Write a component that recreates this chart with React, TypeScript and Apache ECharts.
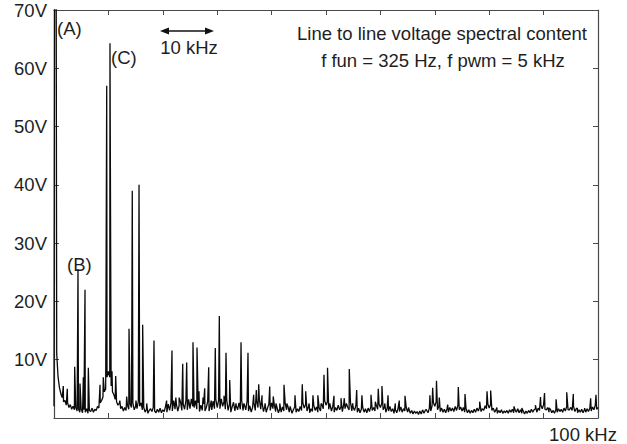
import React, { useEffect, useRef } from "react";
import * as echarts from "echarts";

// Frequency axis (kHz) and voltage axis (V)
const xMin = 0;
const xMax = 100;
const xInterval = 10;
const yMin = 0;
const yMax = 70;
const yInterval = 10;
const xEndLabel = "100 kHz";

// Noise floor sampled every 0.25 kHz, 0 .. 100 kHz (V)
const floorStep = 0.25;
const floorLevels = [
  // 0 - 4.75
  2, 75, 11, 7, 5.2, 4.2, 3.5, 2.8, 3.0, 2.2, 2.6, 1.8, 2.3, 1.5, 2.0, 1.4, 1.8, 1.2, 1.6, 1.0,
  // 5 - 9.75
  1.5, 0.9, 1.4, 1.0, 1.6, 0.8, 1.3, 1.1, 1.7, 1.0, 1.5, 1.3, 2.0, 1.7, 2.6, 3.0, 3.6, 4.5, 5.0, 7.0,
  // 10 - 14.75
  8.0, 7.0, 5.5, 4.5, 4.0, 3.2, 2.8, 2.2, 2.5, 1.6, 2.0, 1.2, 1.8, 1.3, 2.2, 1.5, 2.4, 1.8, 2.6, 1.4,
  // 15 - 19.75
  2.0, 1.6, 2.8, 2.0, 2.6, 1.4, 1.8, 1.0, 1.5, 0.8, 1.3, 1.6, 1.1, 1.8, 1.2, 0.9, 1.5, 1.0, 1.7, 0.9,
  // 20 - 24.75
  1.4, 1.1, 2.0, 1.0, 2.4, 1.3, 2.6, 1.2, 3.0, 1.5, 2.4, 1.2, 2.1, 2.8, 1.3, 2.4, 1.5, 3.0, 1.4, 3.2,
  // 25 - 29.75
  1.6, 3.3, 2.0, 1.8, 3.0, 1.5, 2.6, 1.1, 2.2, 1.3, 2.4, 1.2, 1.8, 2.8, 1.2, 2.2, 1.4, 2.9, 1.6, 3.2,
  // 30 - 34.75
  1.8, 3.0, 1.6, 3.3, 2.0, 2.8, 1.5, 3.1, 1.3, 2.4, 1.0, 1.9, 2.7, 1.2, 2.1, 1.4, 2.6, 1.5, 3.0, 1.3,
  // 35 - 39.75
  2.3, 1.4, 2.9, 1.2, 2.1, 1.0, 1.8, 2.6, 1.3, 3.0, 1.8, 3.2, 1.5, 2.7, 1.1, 2.0, 1.0, 1.7, 2.4, 1.3,
  // 40 - 44.75
  2.6, 1.6, 2.2, 1.1, 1.8, 0.9, 1.6, 1.0, 1.9, 1.2, 2.5, 1.4, 2.0, 1.0, 1.7, 0.8, 1.4, 1.9, 1.0, 1.6,
  // 45 - 49.75
  1.1, 2.0, 1.3, 2.6, 1.7, 2.3, 1.2, 1.9, 0.9, 1.6, 1.1, 2.2, 1.3, 1.9, 1.0, 1.7, 1.2, 2.3, 1.6, 3.0,
  // 50 - 54.75
  2.2, 2.8, 1.5, 2.4, 1.2, 2.0, 1.0, 1.8, 1.3, 2.2, 1.4, 1.9, 1.1, 2.3, 1.6, 2.5, 1.8, 1.4, 2.7, 1.2,
  // 55 - 59.75
  1.8, 1.3, 2.2, 1.0, 1.7, 0.9, 1.5, 1.8, 1.0, 1.6, 0.9, 1.7, 1.1, 2.0, 1.3, 1.8, 1.2, 2.2, 1.5, 2.4,
  // 60 - 64.75
  1.8, 2.5, 1.4, 1.9, 1.0, 1.7, 1.2, 2.0, 1.1, 1.6, 0.8, 1.4, 0.9, 1.7, 1.1, 1.9, 1.0, 1.6, 1.2, 1.8,
  // 65 - 69.75
  1.0, 1.5, 0.8, 1.3, 0.7, 1.2, 0.8, 1.1, 0.6, 1.2, 0.7, 1.4, 0.8, 1.3, 1.5, 0.9, 1.7, 1.2, 2.1, 2.6,
  // 70 - 74.75
  2.0, 2.8, 1.4, 2.0, 1.1, 1.7, 1.0, 1.5, 0.9, 1.6, 1.0, 1.8, 1.2, 1.7, 1.1, 2.0, 1.3, 2.2, 1.4, 1.9,
  // 75 - 79.75
  1.2, 1.8, 1.0, 1.6, 0.9, 1.4, 0.8, 1.3, 0.9, 1.5, 1.0, 1.7, 1.2, 1.9, 1.1, 1.6, 1.3, 2.1, 1.6, 2.4,
  // 80 - 84.75
  1.7, 2.3, 1.3, 1.7, 1.0, 1.4, 0.8, 1.3, 0.9, 1.4, 0.8, 1.2, 0.9, 1.3, 0.8, 1.4, 1.0, 1.5, 0.9, 1.4,
  // 85 - 89.75
  1.0, 1.6, 0.9, 1.4, 0.8, 1.2, 0.7, 1.2, 0.8, 1.3, 0.9, 1.5, 1.0, 1.4, 1.6, 1.0, 1.7, 1.3, 2.2, 1.6,
  // 90 - 94.75
  2.3, 1.5, 1.4, 1.8, 1.0, 1.5, 0.9, 1.3, 0.8, 1.4, 1.0, 1.6, 1.1, 1.5, 1.0, 1.7, 1.2, 2.0, 1.4, 1.4,
  // 95 - 99.75
  1.8, 1.3, 2.0, 1.1, 1.6, 0.9, 1.4, 1.0, 1.5, 0.9, 1.4, 1.0, 1.6, 1.1, 1.7, 1.2, 1.9, 1.4, 2.2, 1.5,
  // 100
  1.8,
];

// Spectral lines [kHz, V]
const peaks: [number, number][] = [
  [0.1, 75], [0.4, 75],
  [1.71, 5.5], [2.44, 5.0], [3.8, 8.8], [4.41, 25.5], [4.78, 5.9], [5.39, 7.0], [5.7, 22],
  [6.31, 8.6], [8.46, 5.7], [9.06, 7.0], [9.69, 57], [10.29, 64.3], [10.66, 8.0], [11.34, 7.2],
  [12.1, 3.0], [13.36, 3.7], [13.79, 15.3], [14.39, 39], [15.07, 3.0], [15.63, 40], [16.3, 16],
  [17.04, 2.5], [18.38, 13.3], [20.7, 3.0], [21.69, 11.6], [22.4, 3.5], [23.0, 3.5], [23.66, 9.3],
  [24.39, 9.5], [25.55, 13], [26.29, 12.1], [26.65, 4.6], [27.4, 3.5], [27.7, 5.1], [28.44, 8.7],
  [28.9, 3.0], [29.65, 12], [30.39, 17.5], [31.25, 3.8], [31.62, 11.2], [32.3, 6.5], [33.46, 2.5],
  [34.38, 13], [34.9, 2.5], [35.66, 11.2], [36.7, 4.0], [37.19, 4.8], [37.63, 5.8], [38.24, 3.9],
  [38.8, 2.5], [39.65, 5.4], [40.3, 3.7], [40.8, 2.5], [41.5, 2.5], [42.28, 5.7], [42.8, 2.5],
  [43.4, 2.0], [44.3, 3.9], [45.64, 5.8], [46.27, 4.6], [46.9, 2.5], [47.6, 3.9], [48.5, 3.9],
  [49.1, 2.5], [49.63, 7.4], [50.28, 8.6], [50.7, 2.5], [51.47, 3.8], [52.76, 3.4], [53.36, 3.4],
  [53.8, 2.5], [54.28, 8.4], [54.9, 2.5], [55.64, 4.8], [56.6, 3.9], [58.27, 4.0], [59.07, 2.8],
  [59.61, 5.0], [60.29, 5.5], [60.8, 2.5], [61.4, 3.9], [62.74, 2.5], [63.47, 3.0], [64.52, 3.8],
  [65.2, 1.8], [68.4, 1.5], [69.1, 3.9], [69.61, 5.2], [70.31, 6.4], [70.83, 3.5], [72.37, 2.3],
  [74.32, 5.3], [75.55, 4.1], [78.25, 2.8], [79.6, 4.6], [80.27, 4.7], [81.4, 1.8], [84.56, 2.0],
  [86.0, 1.7], [88.5, 2.2], [89.43, 3.6], [90.17, 4.3], [91.0, 1.7], [92.3, 3.2], [94.25, 4.4],
  [94.9, 1.7], [95.46, 4.1], [96.2, 1.7], [97.55, 1.7], [98.65, 3.4], [99.63, 4.0],
];

const titleLines = ["Line to line voltage spectral content", "f fun = 325 Hz, f pwm = 5 kHz"];
const annotations = ["(A)", "(B)", "(C)"];
const scaleLabel = "10 kHz";

const FONT = '18.5px "Liberation Sans", Arial, sans-serif';
const TEXT = "#1e1e1e";
const AXIS = "#4a4a4a";

export default function App() {
  const ref = useRef<HTMLDivElement>(null);

  useEffect(() => {
    if (!ref.current) return;
    const chart = echarts.init(ref.current, undefined, { renderer: "svg" });

    const points: [number, number][] = floorLevels
      .map((v, i) => [i * floorStep, v] as [number, number])
      .concat(peaks)
      .sort((a, b) => a[0] - b[0]);

    const axisCommon = {
      min: xMin,
      max: xMax,
      interval: xInterval,
      axisLine: { show: true, onZero: false, lineStyle: { color: AXIS, width: 1.2 } },
      axisTick: { show: true, inside: true, length: 5, lineStyle: { color: AXIS } },
      splitLine: { show: false },
    };
    const yCommon = {
      min: yMin,
      max: yMax,
      interval: yInterval,
      axisLine: { show: true, onZero: false, lineStyle: { color: AXIS, width: 1.2 } },
      axisTick: { show: true, inside: true, length: 5, lineStyle: { color: AXIS } },
      splitLine: { show: false },
    };

    chart.setOption({
      animation: false,
      backgroundColor: "#fff",
      grid: { left: 54, right: 29, top: 10, bottom: 26 },
      xAxis: [
        { type: "value", position: "bottom", ...axisCommon, axisLabel: { show: false } },
        { type: "value", position: "top", ...axisCommon, axisLabel: { show: false } },
      ],
      yAxis: [
        {
          type: "value",
          position: "left",
          ...yCommon,
          axisLabel: {
            show: true,
            margin: 7,
            color: TEXT,
            fontSize: 18.5,
            fontFamily: '"Liberation Sans", Arial, sans-serif',
            padding: [4, 0, 0, 0],
            formatter: (v: number) => (v === 0 ? "" : `${v}V`),
          },
        },
        { type: "value", position: "right", ...yCommon, axisLabel: { show: false } },
      ],
      series: [
        {
          type: "line",
          xAxisIndex: 0,
          yAxisIndex: 0,
          data: points,
          showSymbol: false,
          symbol: "none",
          clip: true,
          lineStyle: { color: "#0a0a0a", width: 1.3 },
          z: 1,
        },
      ],
      graphic: [
        { type: "text", x: 57, y: 28, style: { text: annotations[0], font: FONT, fill: TEXT, align: "left", verticalAlign: "middle" } },
        { type: "text", x: 67, y: 264, style: { text: annotations[1], font: FONT, fill: TEXT, align: "left", verticalAlign: "middle" } },
        { type: "text", x: 111, y: 57, style: { text: annotations[2], font: FONT, fill: TEXT, align: "left", verticalAlign: "middle" } },
        { type: "text", x: 189, y: 47, style: { text: scaleLabel, font: FONT, fill: TEXT, align: "center", verticalAlign: "middle" } },
        { type: "line", shape: { x1: 166, y1: 31, x2: 208, y2: 31 }, style: { stroke: "#111", lineWidth: 1.5 } },
        { type: "polygon", shape: { points: [[160, 31], [169, 27.5], [169, 34.5]] }, style: { fill: "#111" } },
        { type: "polygon", shape: { points: [[214, 31], [205, 27.5], [205, 34.5]] }, style: { fill: "#111" } },
        { type: "text", x: 442, y: 33, style: { text: titleLines[0], font: FONT, fill: TEXT, align: "center", verticalAlign: "middle" } },
        { type: "text", x: 443, y: 60, style: { text: titleLines[1], font: FONT, fill: TEXT, align: "center", verticalAlign: "middle" } },
        { type: "text", x: 583, y: 434, style: { text: xEndLabel, font: FONT, fill: TEXT, align: "center", verticalAlign: "middle" } },
      ],
    });

    return () => chart.dispose();
  }, []);

  return (
    <div
      ref={ref}
      style={{ position: "absolute", left: 0, top: 0, width: 627, height: 444 }}
    />
  );
}
